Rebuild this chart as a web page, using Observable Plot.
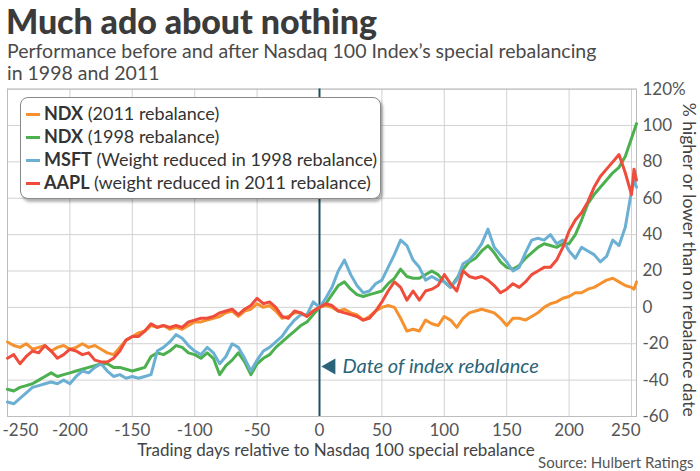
<!DOCTYPE html>
<html><head><meta charset="utf-8">
<script src="https://cdn.jsdelivr.net/npm/d3@7"></script>
<script src="https://cdn.jsdelivr.net/npm/@observablehq/plot@0.6"></script>
<style>
body{margin:0;background:#fff;font-family:Lato,"Noto Sans",sans-serif;}
#wrap{position:relative;width:700px;height:471px;overflow:hidden;background:#fff;}
#wrap svg{position:absolute;left:0;top:0;}
#title{position:absolute;left:6px;top:3.4px;height:36px;font-size:34px;line-height:36px;font-weight:900;color:#3b3b3b;letter-spacing:-0.1px;white-space:nowrap;}
#sub{position:absolute;left:7px;top:40px;font-size:19.5px;line-height:22px;color:#4a4a4a;white-space:nowrap;}
#legend{position:absolute;left:20px;top:97px;width:354px;padding:4px 0 4px 5px;background:#fff;border:1.5px solid #8a8a8a;border-radius:8px;box-shadow:2px 3px 3px rgba(0,0,0,.3);font-size:18px;color:#333;z-index:2;}
#legend .row{line-height:23px;height:23px;white-space:nowrap;}
#legend .sw{display:inline-block;width:14px;height:3px;margin-right:4px;vertical-align:middle;position:relative;top:-1px;}
#legend b{font-weight:700;}
</style></head>
<body>
<div id="wrap">
  <div id="title">Much ado about nothing</div>
  <div id="sub">Performance before and after Nasdaq 100 Index’s special rebalancing<br>in 1998 and 2011</div>
  <div id="legend"></div>
</div>
<script>
const days = [
-250,-245,-240,-235,-230,-225,-220,-215,-210,-205,
-200,-195,-190,-185,-180,-175,-170,-165,-160,-155,
-150,-145,-140,-135,-130,-125,-120,-115,-110,-105,
-100,-95,-90,-85,-80,-75,-70,-65,-60,-55,
-50,-45,-40,-35,-30,-25,-20,-15,-10,-5,
0,5,10,15,20,25,30,35,40,45,
50,55,60,65,70,75,80,85,90,95,
100,105,110,115,120,125,130,135,140,145,
150,155,160,165,170,175,180,185,190,195,
200,205,210,215,220,225,230,235,240,245,
250,252,254];

const ndx2011 = [
-19,-21,-22,-20,-23,-22,-21,-24,-22,-21,
-23,-22,-20,-22,-21,-23,-25,-26,-22,-18,
-16,-14,-13,-10,-11,-10,-12,-11,-12,-10,
-8,-8,-7,-6,-5,-3,-2,-5,-2,-1,
2,0,1,-2,-6,-5,-3,-3,-5,-2,
0,1,0,-2,-1,-3,-4,-7,-5,-2,
0,1,0,-6,-13,-12,-13,-7,-9,-10,
-5,-7,-11,-6,-3,-2,-1,-2,-3,-6,
-10,-6,-6,-7,-5,-3,0,2,3,5,
6,8,8,10,11,13,15,16,14,12,
11,10,14];

const ndx1998 = [
-45,-46,-44,-43,-42,-40,-38,-36,-38,-37,
-36,-35,-34,-33,-32,-31,-31,-33,-33,-34,
-35,-34,-33,-27,-25,-26,-24,-21,-22,-25,
-26,-28,-25,-28,-37,-32,-29,-25,-30,-37,
-31,-28,-26,-22,-19,-16,-13,-10,-8,-4,
0,2,7,12,14,10,7,6,7,8,
9,13,16,21,17,16,16,18,20,18,
14,11,16,21,25,27,31,34,30,25,
22,21,23,27,30,33,35,34,33,35,
35,40,48,57,62,66,70,74,77,83,
93,97,101];

const msft = [
-52,-53,-50,-47,-44,-43,-42,-41,-42,-40,
-42,-38,-35,-36,-33,-31,-35,-38,-37,-39,
-38,-39,-38,-37,-24,-22,-19,-15,-17,-21,
-24,-26,-22,-25,-31,-27,-20,-22,-28,-35,
-29,-24,-22,-19,-16,-11,-7,-4,-4,3,
0,5,11,20,26,18,12,8,9,13,
15,22,29,37,34,26,22,15,17,15,
14,11,15,24,26,30,35,43,33,29,
25,20,22,30,37,38,37,40,35,37,
31,27,33,31,29,25,28,37,34,44,
64,70,66];

const aapl = [
-28,-26,-31,-27,-24,-25,-21,-24,-28,-26,
-23,-24,-26,-25,-29,-30,-30,-28,-24,-18,
-16,-16,-13,-9,-11,-10,-11,-10,-11,-8,
-7,-6,-6,-5,-3,-2,-1,-4,-1,1,
5,2,3,0,-5,-6,-2,-3,-5,-2,
0,2,1,-2,-3,-4,-5,-7,-6,-2,
3,9,14,11,4,9,4,9,10,12,
18,13,9,20,17,16,17,15,12,8,
10,13,11,14,18,20,22,22,26,33,
42,48,52,58,66,72,76,80,84,74,
62,76,70];

const seriesBold = ["NDX", "NDX", "MSFT", "AAPL"];
const seriesRest = ["(2011 rebalance)", "(1998 rebalance)", "(Weight reduced in 1998 rebalance)", "(weight reduced in 2011 rebalance)"];
const seriesColors = ["#f5922f", "#4cb04f", "#6bb0d3", "#ef4c3b"];
const xTicks = [-250,-200,-150,-100,-50,0,50,100,150,200,250];
const yTicks = [-60,-40,-20,0,20,40,60,80,100,120];
const yTitle = "% higher or lower than on rebalance date";
const xTitle = "Trading days relative to Nasdaq 100 special rebalance";
const source = "Source: Hulbert Ratings";
const annotation = "Date of index rebalance";

const seriesData = [ndx2011, ndx1998, msft, aapl];
const seriesNames = seriesBold.map((b, i) => b + " " + seriesRest[i]);
const rows = [];
seriesData.forEach((vals, i) => vals.forEach((v, j) => rows.push({day: days[j], value: v, series: seriesNames[i]})));

const teal = "#2a6478";
const tickStyle = {frameAnchor: "bottom", lineAnchor: "middle", dy: 14, fontSize: 17, fill: "#555"};
const chart = Plot.plot({
  width: 700, height: 471,
  marginLeft: 7, marginRight: 64, marginTop: 88.6, marginBottom: 55,
  style: {fontFamily: "Lato, 'Noto Sans', sans-serif", background: "transparent", overflow: "visible"},
  x: {domain: [-250, 254], axis: null},
  y: {domain: [-60, 120], axis: null},
  color: {domain: seriesNames, range: seriesColors},
  marks: [
    Plot.gridX(xTicks, {stroke: "#d2d2d2", strokeOpacity: 1}),
    Plot.gridY(yTicks, {stroke: "#d2d2d2", strokeOpacity: 1}),
    Plot.frame({stroke: "#bdbdbd"}),
    Plot.ruleX([0], {stroke: "#1d4f63", strokeWidth: 2}),
    Plot.line(rows, {x: "day", y: "value", z: "series", stroke: "series", strokeWidth: 3, strokeLinejoin: "round"}),
    Plot.axisY(yTicks, {anchor: "right", tickSize: 0, tickPadding: 6, fontSize: 17, fill: "#555",
      tickFormat: d => d === 120 ? "120%" : String(d), label: null}),
    Plot.text(xTicks.slice(1, -1), {x: d => d, text: d => String(d), ...tickStyle}),
    Plot.text(xTicks.slice(0, 1), {x: d => d, text: d => String(d), ...tickStyle, dx: -5, textAnchor: "start"}),
    Plot.text(xTicks.slice(-1), {x: d => d, text: d => String(d), ...tickStyle, dx: 9, textAnchor: "end"}),
    Plot.text([xTitle], {frameAnchor: "bottom", lineAnchor: "middle", dy: 34, dx: 14, fontSize: 17, fill: "#444"}),
    Plot.text([source], {frameAnchor: "bottom-right", lineAnchor: "middle", dy: 47, dx: 57, textAnchor: "end", fontSize: 15, fill: "#555"}),
    Plot.text([yTitle], {frameAnchor: "right", textAnchor: "middle", lineAnchor: "middle", rotate: 90, dx: 52, dy: 7, fontSize: 17.5, fill: "#444"}),
    Plot.dot([{day: 9, value: -32.5}], {x: "day", y: "value", symbol: "triangle", r: 6, fill: teal, stroke: null, rotate: -90}),
    Plot.text([{day: 0, value: -32.5, label: annotation}], {x: "day", y: "value", text: "label", dx: 23, textAnchor: "start", fontStyle: "italic", fontSize: 20, fill: teal})
  ]
});
document.getElementById("wrap").appendChild(chart);

const leg = document.getElementById("legend");
seriesBold.forEach((b, i) => {
  const row = document.createElement("div");
  row.className = "row";
  const sw = document.createElement("span");
  sw.className = "sw";
  sw.style.background = seriesColors[i];
  row.appendChild(sw);
  const bold = document.createElement("b");
  bold.textContent = b;
  row.appendChild(bold);
  row.appendChild(document.createTextNode(" " + seriesRest[i]));
  leg.appendChild(row);
});
</script>
</body></html>
